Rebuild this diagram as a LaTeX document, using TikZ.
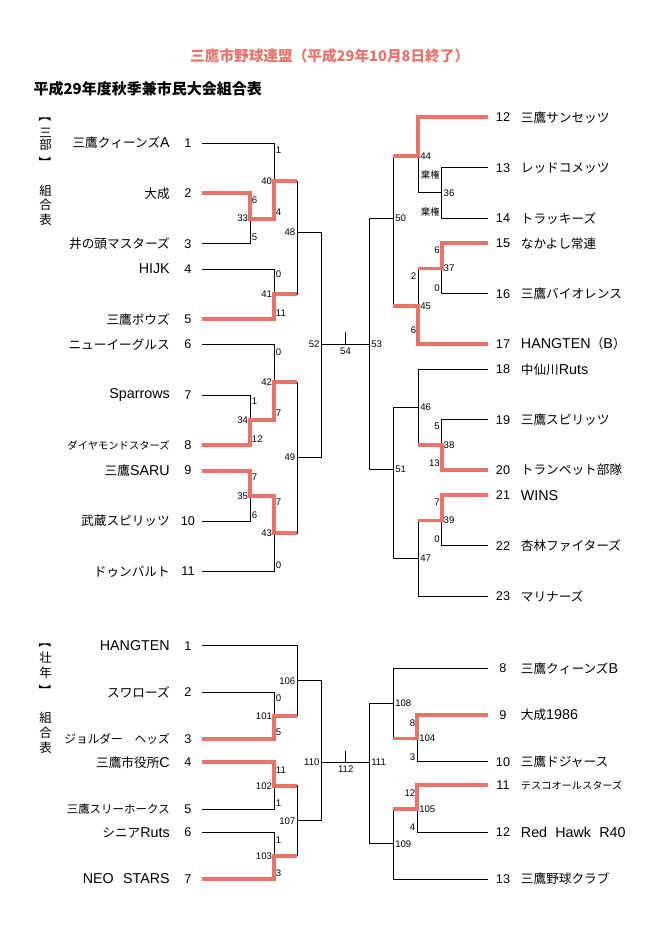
\documentclass[tikz,border=0pt]{standalone}
\usepackage{fontspec}
\setmainfont{Noto Sans CJK JP}
\newfontfamily\lat{Liberation Sans}
\newcommand\latn[1]{{\fontsize{12.2}{13}\lat #1}}
\usepackage{tikz}
\usepackage{xcolor}
\definecolor{winred}{RGB}{233,114,106}
\tikzstyle{wire} = [draw=black, line width=0.75pt]
\tikzstyle{winline} = [draw=winred, line width=3.3pt]
\tikzstyle{team} = [inner sep=0pt, font=\fontsize{10.8}{12}\selectfont]
\tikzstyle{lname} = [team, anchor=east]
\tikzstyle{rname} = [team, anchor=west]
\tikzstyle{seed} = [inner sep=0pt, anchor=center, font=\fontsize{10.8}{12}\lat]
\tikzstyle{score} = [inner sep=0pt, font=\fontsize{8.2}{9}\lat]
\tikzstyle{lscore} = [score, anchor=west, xshift=1.5pt]
\tikzstyle{rscore} = [score, anchor=east, xshift=-1.5pt]
\tikzstyle{kiken} = [rscore, font=\fontsize{8}{9}\selectfont]
\tikzstyle{vlabel} = [align=center, inner sep=0pt, font=\fontsize{10.7}{12.2}\selectfont]
\tikzstyle{vbrack} = [inner sep=0pt, rotate=-90, font=\fontsize{10.7}{12}\selectfont]

\begin{document}
\begin{tikzpicture}[x=0.03cm, y=-0.03cm]
		\useasboundingbox (0,0) rectangle (661,942);
		\node[text=winred, font=\fontsize{12.5}{14}\selectfont\bfseries] (title) at (329.7,56) {三鷹市野球連盟（平成29年10月8日終了）};
		\node[anchor=west, inner sep=0pt, font=\fontsize{12.8}{14}\selectfont\bfseries] (head) at (33.3,89) {平成29年度秋季兼市民大会組合表};
		\node[vbrack] (br1) at (45.7,116) {【};
		\node[vlabel, font=\fontsize{10.7}{10.3}\selectfont] (sanbu) at (45.7,139) {三\\部};
		\node[vbrack] (br2) at (45.7,163) {】};
		\node[vlabel] (kumi1) at (45.7,205) {組\\合\\表};
		\node[vbrack] (br3) at (45.7,642) {【};
		\node[vlabel, font=\fontsize{10.7}{12.8}\selectfont] (sonen) at (45.7,665.5) {壮\\年};
		\node[vbrack] (br4) at (45.7,691) {】};
		\node[vlabel, font=\fontsize{10.7}{12.8}\selectfont] (kumi2) at (45.7,733) {組\\合\\表};
		% 三部 left
		\coordinate (a1) at (202,143);   \node[seed] (s-a1) at (188,143) {1};   \node[lname] (t-a1) at (170,143) {三鷹クィーンズ\latn{A}};
		\coordinate (a2) at (202,193.4); \node[seed] (s-a2) at (188,193.4) {2}; \node[lname] (t-a2) at (170,193.4) {大成};
		\coordinate (a3) at (202,243.8); \node[seed] (s-a3) at (188,243.8) {3}; \node[lname] (t-a3) at (170,243.8) {井の頭マスターズ};
		\coordinate (a4) at (202,269);   \node[seed] (s-a4) at (188,269) {4};   \node[lname] (t-a4) at (170,269) {\latn{HIJK}};
		\coordinate (a5) at (202,319.4); \node[seed] (s-a5) at (188,319.4) {5}; \node[lname] (t-a5) at (170,319.4) {三鷹ボウズ};
		\coordinate (a6) at (202,344.6); \node[seed] (s-a6) at (188,344.6) {6}; \node[lname] (t-a6) at (170,344.6) {ニューイーグルス};
		\coordinate (a7) at (202,395);   \node[seed] (s-a7) at (188,395) {7};   \node[lname] (t-a7) at (170,395) {\latn{Sparrows}};
		\coordinate (a8) at (202,445.4); \node[seed] (s-a8) at (188,445.4) {8}; \node[lname, font=\fontsize{8.8}{10}\selectfont] (t-a8) at (170,445.4) {ダイヤモンドスターズ};
		\coordinate (a9) at (202,470.6); \node[seed] (s-a9) at (188,470.6) {9}; \node[lname] (t-a9) at (170,470.6) {三鷹\latn{SARU}};
		\coordinate (a10) at (202,521);  \node[seed] (s-a10) at (188,521) {10}; \node[lname] (t-a10) at (170,521) {武蔵スピリッツ};
		\coordinate (a11) at (202,571.4); \node[seed] (s-a11) at (188,571.4) {11}; \node[lname] (t-a11) at (170,571.4) {ドゥンバルト};
		\coordinate (m33) at (250,218.6);
		\coordinate (m40) at (274,181);
		\coordinate (m41) at (274,294.2);
		\coordinate (m48) at (297.3,232);
		\coordinate (m34) at (250,420.2);
		\coordinate (m42) at (274,382);
		\coordinate (m35) at (250,495.8);
		\coordinate (m43) at (274,533);
		\coordinate (m49) at (297.3,457);
		\coordinate (m52) at (321.5,344.5);
		% 三部 right
		\coordinate (b12) at (488.3,117.3); \node[seed] (s-b12) at (503,117.3) {12}; \node[rname] (t-b12) at (520.7,117.3) {三鷹サンセッツ};
		\coordinate (b13) at (488.3,167.7); \node[seed] (s-b13) at (503,167.7) {13}; \node[rname] (t-b13) at (520.7,167.7) {レッドコメッツ};
		\coordinate (b14) at (488.3,218.1); \node[seed] (s-b14) at (503,218.1) {14}; \node[rname] (t-b14) at (520.7,218.1) {トラッキーズ};
		\coordinate (b15) at (488.3,243.3); \node[seed] (s-b15) at (503,243.3) {15}; \node[rname] (t-b15) at (520.7,243.3) {なかよし常連};
		\coordinate (b16) at (488.3,293.7); \node[seed] (s-b16) at (503,293.7) {16}; \node[rname] (t-b16) at (520.7,293.7) {三鷹バイオレンス};
		\coordinate (b17) at (488.3,344.1); \node[seed] (s-b17) at (503,344.1) {17}; \node[rname] (t-b17) at (520.7,344.1) {\latn{HANGTEN}（\latn{B}）};
		\coordinate (b18) at (488.3,369.3); \node[seed] (s-b18) at (503,369.3) {18}; \node[rname] (t-b18) at (520.7,369.3) {中仙川\latn{Ruts}};
		\coordinate (b19) at (488.3,419.7); \node[seed] (s-b19) at (503,419.7) {19}; \node[rname] (t-b19) at (520.7,419.7) {三鷹スピリッツ};
		\coordinate (b20) at (488.3,470.1); \node[seed] (s-b20) at (503,470.1) {20}; \node[rname] (t-b20) at (520.7,470.1) {トランペット部隊};
		\coordinate (b21) at (488.3,495.3); \node[seed] (s-b21) at (503,495.3) {21}; \node[rname] (t-b21) at (520.7,495.3) {\latn{WINS}};
		\coordinate (b22) at (488.3,545.7); \node[seed] (s-b22) at (503,545.7) {22}; \node[rname] (t-b22) at (520.7,545.7) {杏林ファイターズ};
		\coordinate (b23) at (488.3,596.1); \node[seed] (s-b23) at (503,596.1) {23}; \node[rname] (t-b23) at (520.7,596.1) {マリナーズ};
		\coordinate (m36) at (441.7,192.9);
		\coordinate (m44) at (418.3,156);
		\coordinate (m37) at (441.7,268.5);
		\coordinate (m45) at (418.3,306);
		\coordinate (m50) at (393.3,218.1);
		\coordinate (m38) at (441.7,444.9);
		\coordinate (m46) at (418.3,407);
		\coordinate (m39) at (441.7,520.5);
		\coordinate (m47) at (418.3,558.3);
		\coordinate (m51) at (393.3,469.5);
		\coordinate (m53) at (369.3,344.5);
		\coordinate (m54) at (345.5,344.5);
		\coordinate (k54) at (345.5,331.7);
		% 壮年 left
		\coordinate (c1) at (202,645.7); \node[seed] (s-c1) at (188,645.7) {1}; \node[lname] (t-c1) at (170,645.7) {\latn{HANGTEN}};
		\coordinate (c2) at (202,692.4); \node[seed] (s-c2) at (188,692.4) {2}; \node[lname] (t-c2) at (170,692.4) {スワローズ};
		\coordinate (c3) at (202,739);   \node[seed] (s-c3) at (188,739) {3};   \node[lname, font=\fontsize{10}{11}\selectfont] (t-c3) at (170,739) {ジョルダー　ヘッズ};
		\coordinate (c4) at (202,762.4); \node[seed] (s-c4) at (188,762.4) {4}; \node[lname] (t-c4) at (170,762.4) {三鷹市役所\latn{C}};
		\coordinate (c5) at (202,809);   \node[seed] (s-c5) at (188,809) {5};   \node[lname, font=\fontsize{9.8}{11}\selectfont] (t-c5) at (170,809) {三鷹スリーホークス};
		\coordinate (c6) at (202,832.4); \node[seed] (s-c6) at (188,832.4) {6}; \node[lname] (t-c6) at (170,832.4) {シニア\latn{Ruts}};
		\coordinate (c7) at (202,879);   \node[seed] (s-c7) at (188,879) {7};   \node[lname] (t-c7) at (170,879) {\latn{NEO\hspace{8pt}STARS}};
		\coordinate (n101) at (274,715.7);
		\coordinate (n106) at (297.3,680.7);
		\coordinate (n102) at (274,785.7);
		\coordinate (n103) at (274,855.7);
		\coordinate (n107) at (297.3,820.7);
		\coordinate (n110) at (321.5,762.3);
		% 壮年 right
		\coordinate (d8) at (488.3,668.3);  \node[seed] (s-d8) at (503,668.3) {8};   \node[rname] (t-d8) at (520.7,668.3) {三鷹クィーンズ\latn{B}};
		\coordinate (d9) at (488.3,715.1);  \node[seed] (s-d9) at (503,715.1) {9};   \node[rname] (t-d9) at (520.7,715.1) {大成\latn{1986}};
		\coordinate (d10) at (488.3,761.9); \node[seed] (s-d10) at (503,761.9) {10}; \node[rname] (t-d10) at (520.7,761.9) {三鷹ドジャース};
		\coordinate (d11) at (488.3,785.4); \node[seed] (s-d11) at (503,785.4) {11}; \node[rname, font=\fontsize{8.7}{10}\selectfont] (t-d11) at (520.7,785.4) {テスコオールスターズ};
		\coordinate (d12) at (488.3,832.2); \node[seed] (s-d12) at (503,832.2) {12}; \node[rname] (t-d12) at (520.7,832.2) {\latn{Red\hspace{7pt}Hawk\hspace{7pt}R40}};
		\coordinate (d13) at (488.3,879);   \node[seed] (s-d13) at (503,879) {13};   \node[rname] (t-d13) at (520.7,879) {三鷹野球クラブ};
		\coordinate (n104) at (417.3,738.5);
		\coordinate (n108) at (393.3,703.4);
		\coordinate (n105) at (417.3,808.8);
		\coordinate (n109) at (393.3,843.9);
		\coordinate (n111) at (369.3,762.3);
		\coordinate (n112) at (345.7,762.3);
		\coordinate (k112) at (345.7,751);
		% black brackets
		\draw[wire] (a1) -| (m40) (a2) -| (m33) (a3) -| (m33) (m33) -| (m40);
		\draw[wire] (a4) -| (m41) (a5) -| (m41) (m40) -| (m48) (m41) -| (m48);
		\draw[wire] (a6) -| (m42) (a7) -| (m34) (a8) -| (m34) (m34) -| (m42);
		\draw[wire] (a9) -| (m35) (a10) -| (m35) (m35) -| (m43) (a11) -| (m43);
		\draw[wire] (m42) -| (m49) (m43) -| (m49) (m48) -| (m52) (m49) -| (m52);
		\draw[wire] (m52) -- (m53) (m54) -- (k54);
		\draw[wire] (b12) -| (m44) (b13) -| (m36) (b14) -| (m36) (m36) -| (m44);
		\draw[wire] (b15) -| (m37) (b16) -| (m37) (m37) -| (m45) (b17) -| (m45);
		\draw[wire] (m44) -| (m50) (m45) -| (m50) (m50) -| (m53) (m51) -| (m53);
		\draw[wire] (b18) -| (m46) (b19) -| (m38) (b20) -| (m38) (m38) -| (m46);
		\draw[wire] (b21) -| (m39) (b22) -| (m39) (m39) -| (m47) (b23) -| (m47);
		\draw[wire] (m46) -| (m51) (m47) -| (m51);
		\draw[wire] (c1) -| (n106) (c2) -| (n101) (c3) -| (n101) (n101) -| (n106);
		\draw[wire] (c4) -| (n102) (c5) -| (n102) (c6) -| (n103) (c7) -| (n103);
		\draw[wire] (n102) -| (n107) (n103) -| (n107) (n106) -| (n110) (n107) -| (n110);
		\draw[wire] (n110) -- (n111) (n112) -- (k112);
		\draw[wire] (d8) -| (n108) (d9) -| (n104) (d10) -| (n104) (n104) -| (n108);
		\draw[wire] (d11) -| (n105) (d12) -| (n105) (n105) -| (n109) (d13) -| (n109);
		\draw[wire] (n108) -| (n111) (n109) -| (n111);
		% winners
		\draw[winline] (a2) -| (m33) -| (m40) -- (m40 -| m48);
		\draw[winline] (a5) -| (m41) -- (m41 -| m48);
		\draw[winline] (a8) -| (m34) -| (m42) -- (m42 -| m49);
		\draw[winline] (a9) -| (m35) -| (m43) -- (m43 -| m49);
		\draw[winline] (b12) -| (m44) -- (m44 -| m50);
		\draw[winline] (b15) -| (m37) -- (m37 -| m45);
		\draw[winline] (b17) -| (m45) -- (m45 -| m50);
		\draw[winline] (b20) -| (m38) -- (m38 -| m46);
		\draw[winline] (b21) -| (m39) -- (m39 -| m47);
		\draw[winline] (c3) -| (n101) -- (n101 -| n106);
		\draw[winline] (c4) -| (n102) -- (n102 -| n107);
		\draw[winline] (c7) -| (n103) -- (n103 -| n107);
		\draw[winline] (d9) -| (n104) -- (n104 -| n108);
		\draw[winline] (d11) -| (n105) -- (n105 -| n109);
		% match numbers
		\node[rscore] (l33) at (m33) {33};
		\node[rscore] (l40) at (m40) {40};
		\node[rscore] (l41) at (m41) {41};
		\node[rscore] (l48) at (m48) {48};
		\node[rscore] (l34) at (m34) {34};
		\node[rscore] (l42) at (m42) {42};
		\node[rscore] (l35) at (m35) {35};
		\node[rscore] (l43) at (m43) {43};
		\node[rscore] (l49) at (m49) {49};
		\node[rscore] (l52) at (m52) {52};
		\node[score] (l54) at (345.5,351) {54};
		\node[lscore] (l53) at (m53) {53};
		\node[lscore] (l44) at (m44) {44};
		\node[lscore] (l36) at (m36) {36};
		\node[lscore] (l50) at (m50) {50};
		\node[lscore] (l37) at (m37) {37};
		\node[lscore] (l45) at (m45) {45};
		\node[lscore] (l46) at (m46) {46};
		\node[lscore] (l38) at (m38) {38};
		\node[lscore] (l51) at (m51) {51};
		\node[lscore] (l39) at (m39) {39};
		\node[lscore] (l47) at (m47) {47};
		\node[rscore] (l101) at (n101) {101};
		\node[rscore] (l106) at (n106) {106};
		\node[rscore] (l102) at (n102) {102};
		\node[rscore] (l103) at (n103) {103};
		\node[rscore] (l107) at (n107) {107};
		\node[rscore] (l110) at (n110) {110};
		\node[score] (l112) at (345.7,769.3) {112};
		\node[lscore] (l111) at (n111) {111};
		\node[lscore] (l104) at (n104) {104};
		\node[lscore] (l108) at (n108) {108};
		\node[lscore] (l105) at (n105) {105};
		\node[lscore] (l109) at (n109) {109};
		% scores
		\node[lscore] (p33a) at (250,200.4) {6};  \node[lscore] (p33b) at (250,236.8) {5};
		\node[lscore] (p40a) at (274,150) {1};    \node[lscore] (p40b) at (274,212.5) {4};
		\node[lscore] (p41a) at (274,274) {0};    \node[lscore] (p41b) at (274,312.7) {11};
		\node[lscore] (p34a) at (250,400.7) {1};  \node[lscore] (p34b) at (250,439.3) {12};
		\node[lscore] (p42a) at (274,351.7) {0};  \node[lscore] (p42b) at (274,413.3) {7};
		\node[lscore] (p35a) at (250,476.7) {7};  \node[lscore] (p35b) at (250,515) {6};
		\node[lscore] (p43a) at (274,501.7) {7};  \node[lscore] (p43b) at (274,565) {0};
		\node[kiken] (p36a) at (441.7,175) {棄権};
		\node[kiken] (p36b) at (441.7,211.7) {棄権};
		\node[rscore] (p37a) at (441.7,250) {6};   \node[rscore] (p37b) at (441.7,288) {0};
		\node[rscore] (p45a) at (418.3,276) {2};   \node[rscore] (p45b) at (418.3,330) {6};
		\node[rscore] (p38a) at (441.7,426) {5};   \node[rscore] (p38b) at (441.7,463) {13};
		\node[rscore] (p39a) at (441.7,501.7) {7}; \node[rscore] (p39b) at (441.7,539.3) {0};
		\node[lscore] (p101a) at (274,698) {0};    \node[lscore] (p101b) at (274,732.7) {5};
		\node[lscore] (p102a) at (274,770) {11};   \node[lscore] (p102b) at (274,802.7) {1};
		\node[lscore] (p103a) at (274,840) {1};    \node[lscore] (p103b) at (274,873.3) {3};
		\node[rscore] (p104a) at (417.3,723.3) {8};  \node[rscore] (p104b) at (417.3,756.7) {3};
		\node[rscore] (p105a) at (417.3,792.7) {12}; \node[rscore] (p105b) at (417.3,827.3) {4};
	\end{tikzpicture}
\end{document}
